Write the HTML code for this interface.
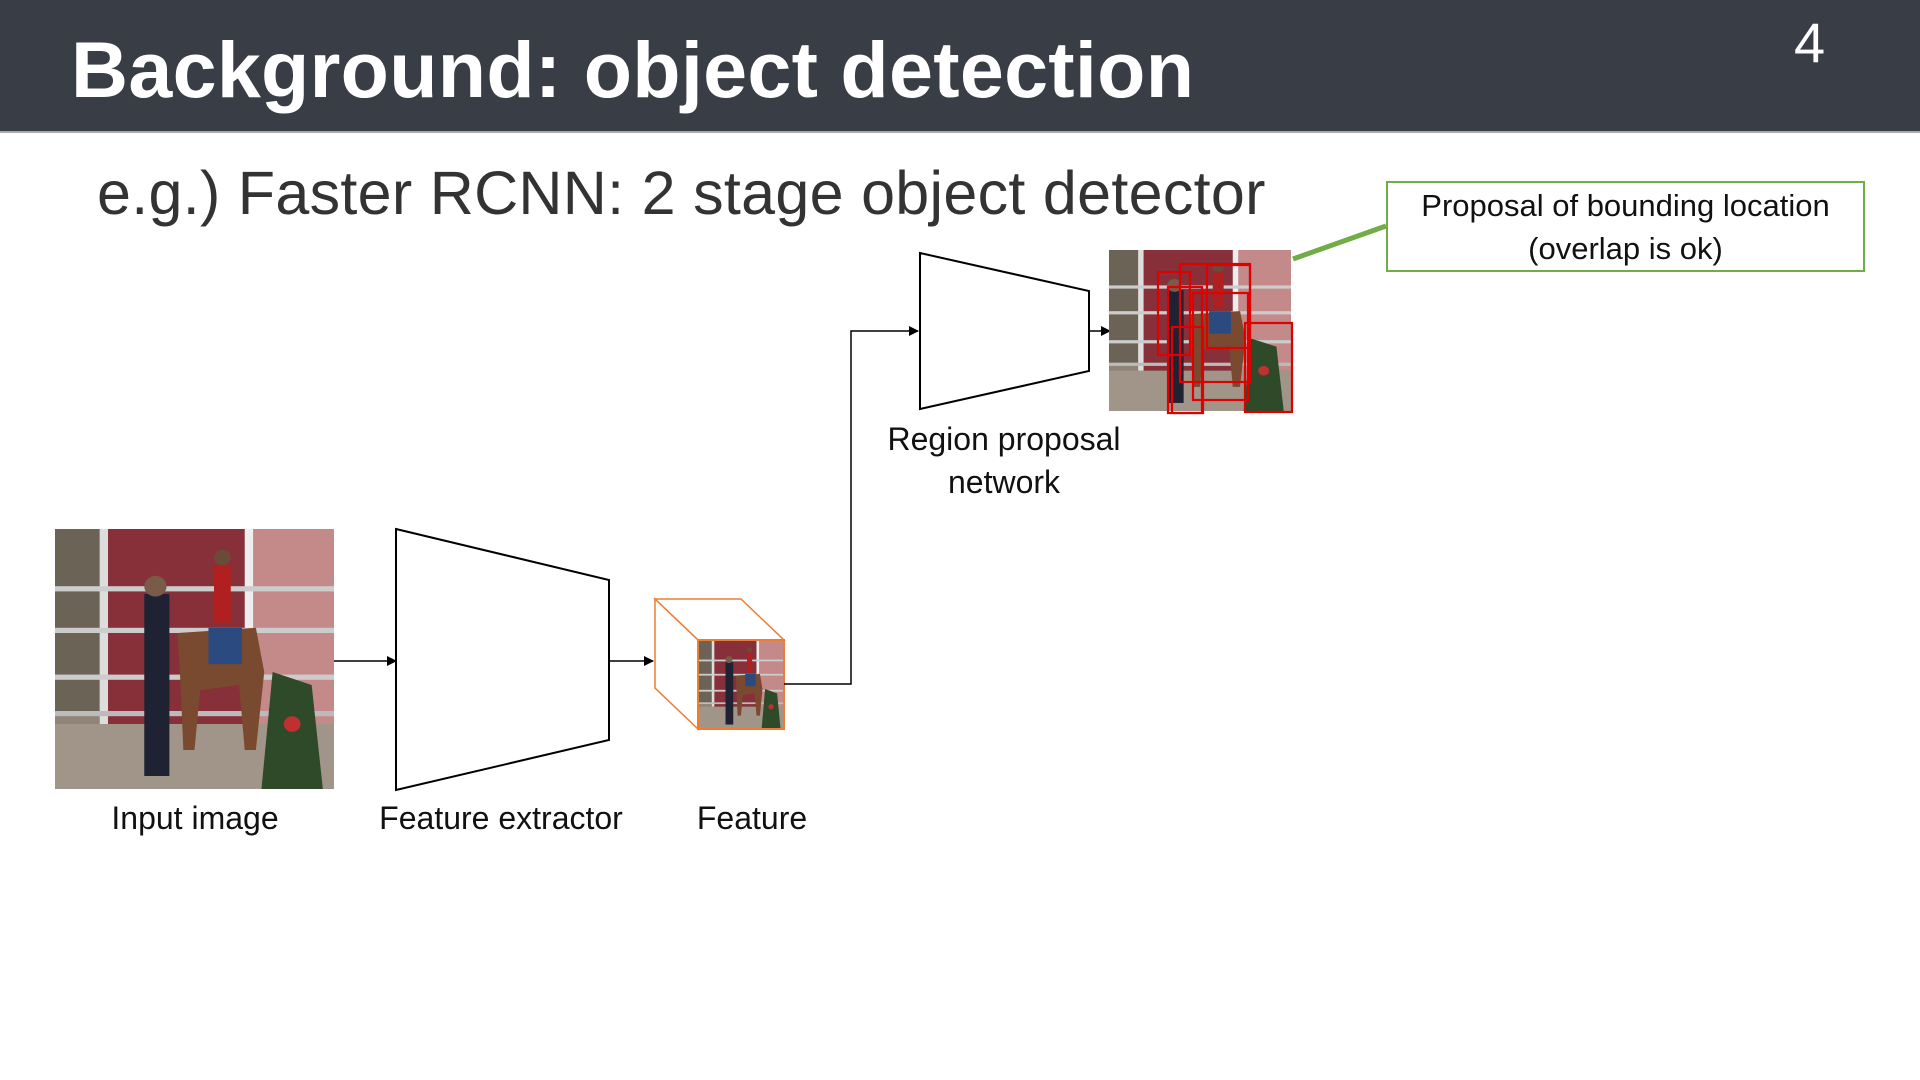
<!DOCTYPE html>
<html><head><meta charset="utf-8"><style>
html,body{margin:0;padding:0;width:1920px;height:1080px;overflow:hidden;background:#fff;font-family:"Liberation Sans",sans-serif}
.t{position:absolute;white-space:nowrap}
</style></head><body>
<div style="position:absolute;left:0;top:0;width:1920px;height:131px;background:#393d45;border-bottom:2px solid #aaa"></div>
<div class="t" style="left:71px;top:20px;font-size:79px;font-weight:bold;color:#fff;line-height:100px;letter-spacing:0.3px">Background: object detection</div>
<div class="t" style="left:1794px;top:10px;font-size:56px;color:#fff;line-height:66px">4</div>
<div class="t" style="left:97px;top:158px;font-size:61px;color:#333;line-height:70px;letter-spacing:0.3px">e.g.) Faster RCNN: 2 stage object detector</div>

<svg width="1920" height="1080" style="position:absolute;left:0;top:0">
<defs>
<symbol id="ph" viewBox="0 0 100 100" preserveAspectRatio="none">
<rect x="0" y="0" width="100" height="100" fill="#8f8478"/>
<rect x="0" y="0" width="16" height="70" fill="#6b6456"/>
<rect x="16" y="0" width="54" height="75" fill="#87303a"/>
<rect x="70" y="0" width="30" height="75" fill="#c48a8a"/>
<rect x="16" y="0" width="3" height="75" fill="#ddd"/>
<rect x="68" y="0" width="3" height="75" fill="#eee"/>
<rect x="0" y="22" width="100" height="2" fill="#ccc"/>
<rect x="0" y="38" width="100" height="2" fill="#ccc"/>
<rect x="0" y="56" width="100" height="2" fill="#ccc"/>
<rect x="0" y="70" width="100" height="2" fill="#bbb"/>
<rect x="0" y="75" width="100" height="25" fill="#a09588"/>
<rect x="32" y="25" width="9" height="70" fill="#1f2233"/>
<circle cx="36" cy="22" r="4" fill="#7a5a48"/>
<path d="M44 40 L72 38 L75 55 L72 85 L68 85 L66 60 L52 62 L50 85 L46 85 L45 60 Z" fill="#7a4a30"/>
<rect x="55" y="38" width="12" height="14" fill="#2a4a80"/>
<rect x="57" y="14" width="6" height="22" fill="#b02020"/>
<circle cx="60" cy="11" r="3" fill="#6b4a38"/>
<path d="M78 55 L92 60 L96 100 L74 100 Z" fill="#2f4a28"/>
<circle cx="85" cy="75" r="3" fill="#c03030"/>
</symbol>
<marker id="ar" markerWidth="10" markerHeight="10" refX="9" refY="5" orient="auto" markerUnits="userSpaceOnUse"><path d="M0,0 L10,5 L0,10 Z" fill="#000"/></marker>
</defs>
<use href="#ph" x="55" y="529" width="279" height="260"/>
<polygon points="396,529 609,580 609,740 396,790" fill="#fff" stroke="#000" stroke-width="2"/>
<line x1="334" y1="661" x2="396" y2="661" stroke="#000" stroke-width="1.5" marker-end="url(#ar)"/>
<line x1="609" y1="661" x2="653" y2="661" stroke="#000" stroke-width="1.5" marker-end="url(#ar)"/>
<polygon points="655,599 741,599 784,640 698,640" fill="#fff" stroke="#ed7d31" stroke-width="1.5"/>
<polygon points="655,599 698,640 698,729 655,688" fill="#fff" stroke="#ed7d31" stroke-width="1.5"/>
<use href="#ph" x="698" y="640" width="86" height="89"/>
<rect x="698" y="640" width="86" height="89" fill="none" stroke="#ed7d31" stroke-width="2"/>
<polyline points="784,684 851,684 851,331 918,331" fill="none" stroke="#000" stroke-width="1.5" marker-end="url(#ar)"/>
<polygon points="920,253 1089,291 1089,371 920,409" fill="#fff" stroke="#000" stroke-width="2"/>
<line x1="1089" y1="331" x2="1110" y2="331" stroke="#000" stroke-width="1.5" marker-end="url(#ar)"/>
<use href="#ph" x="1109" y="250" width="182" height="161"/>
<g fill="none" stroke="#e00000" stroke-width="2.2">
<rect x="1158" y="272" width="32" height="83"/>
<rect x="1180" y="264" width="70" height="118"/>
<rect x="1168" y="287" width="34" height="126"/>
<rect x="1172" y="327" width="31" height="86"/>
<rect x="1193" y="293" width="55" height="107"/>
<rect x="1207" y="265" width="43" height="83"/>
<rect x="1245" y="323" width="47" height="89"/>
</g>
<line x1="1293" y1="259" x2="1386" y2="226" stroke="#70ad47" stroke-width="5"/>
<rect x="1387" y="182" width="477" height="89" fill="#fff" stroke="#70ad47" stroke-width="2"/>
</svg>
<div class="t" style="left:1387px;top:184px;width:477px;text-align:center;font-size:31px;line-height:43px;color:#111">Proposal of bounding location<br>(overlap is ok)</div>
<div class="t" style="left:95px;top:800px;width:200px;text-align:center;font-size:32px;color:#111">Input image</div>
<div class="t" style="left:351px;top:800px;width:300px;text-align:center;font-size:32px;color:#111">Feature extractor</div>
<div class="t" style="left:652px;top:800px;width:200px;text-align:center;font-size:32px;color:#111">Feature</div>
<div class="t" style="left:854px;top:418px;width:300px;text-align:center;font-size:32px;line-height:43px;color:#111">Region proposal<br>network</div>
</body></html>
